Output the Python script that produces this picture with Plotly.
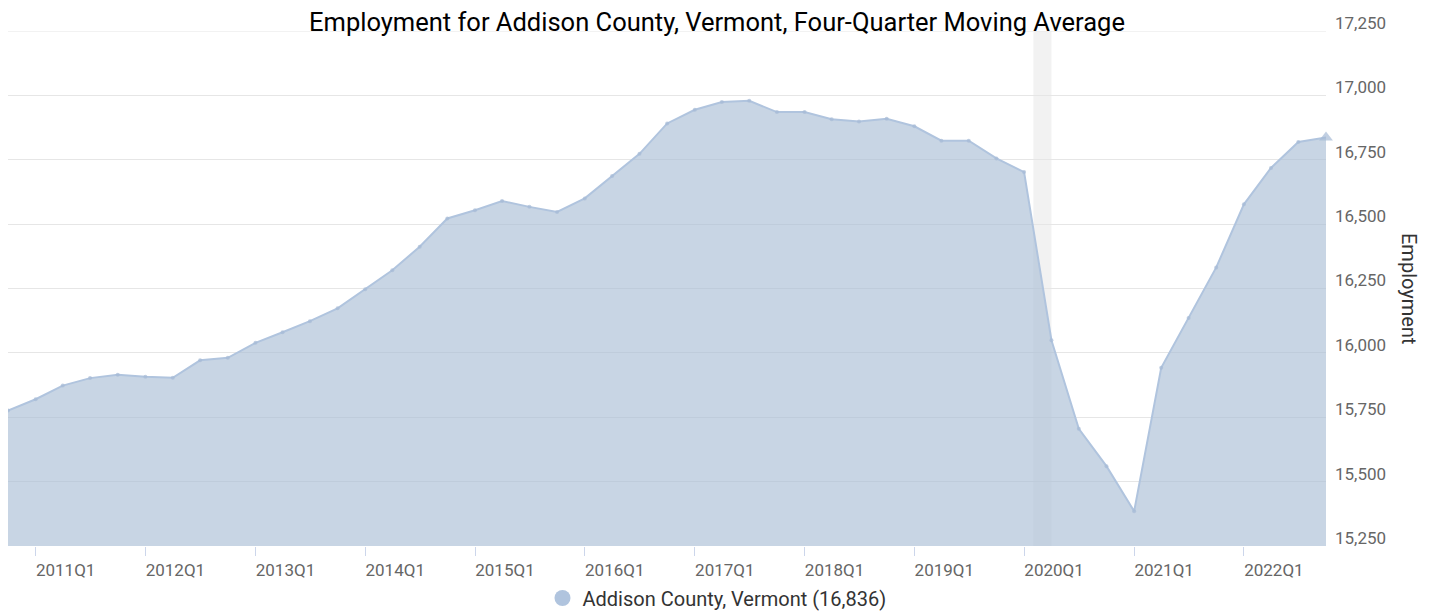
import plotly.graph_objects as go

# ---- data ----
quarters = [
    "2010-10-01",
    "2011-01-01", "2011-04-01", "2011-07-01", "2011-10-01",
    "2012-01-01", "2012-04-01", "2012-07-01", "2012-10-01",
    "2013-01-01", "2013-04-01", "2013-07-01", "2013-10-01",
    "2014-01-01", "2014-04-01", "2014-07-01", "2014-10-01",
    "2015-01-01", "2015-04-01", "2015-07-01", "2015-10-01",
    "2016-01-01", "2016-04-01", "2016-07-01", "2016-10-01",
    "2017-01-01", "2017-04-01", "2017-07-01", "2017-10-01",
    "2018-01-01", "2018-04-01", "2018-07-01", "2018-10-01",
    "2019-01-01", "2019-04-01", "2019-07-01", "2019-10-01",
    "2020-01-01", "2020-04-01", "2020-07-01", "2020-10-01",
    "2021-01-01", "2021-04-01", "2021-07-01", "2021-10-01",
    "2022-01-01", "2022-04-01", "2022-07-01", "2022-10-01",
]
employment = [
    15776,
    15820, 15873, 15902, 15915,
    15907, 15903, 15971, 15981,
    16039, 16080, 16123, 16173,
    16247, 16321, 16412, 16522,
    16554, 16590, 16567, 16547,
    16600, 16687, 16773, 16891,
    16944, 16974, 16979, 16935,
    16935, 16907, 16899, 16909,
    16880, 16824, 16824, 16755,
    16702, 16049, 15705, 15560,
    15385, 15942, 16135, 16332,
    16577, 16718, 16819, 16836,
]
tick_dates = ["2011-01-01", "2012-01-01", "2013-01-01", "2014-01-01", "2015-01-01",
              "2016-01-01", "2017-01-01", "2018-01-01", "2019-01-01", "2020-01-01",
              "2021-01-01", "2022-01-01"]
tick_labels = ["2011Q1", "2012Q1", "2013Q1", "2014Q1", "2015Q1", "2016Q1",
               "2017Q1", "2018Q1", "2019Q1", "2020Q1", "2021Q1", "2022Q1"]
y_ticks = [15250, 15500, 15750, 16000, 16250, 16500, 16750, 17000, 17250]
y_min, y_max = 15250, 17250
recession = ("2020-02-01", "2020-04-01")
series_name = "Addison County, Vermont (16,836)"

LINE = "#b0c4de"
DOT = "#a6bad6"
FILL = "rgba(170,190,214,0.65)"
FONT = "Roboto"

# The page body adds an 8px offset, so the figure is sized to fill the rest of the window.
W, H = 1425, 606

fig = go.Figure()

symbols = ["circle"] * (len(employment) - 1) + ["triangle-up"]
sizes = [4] * (len(employment) - 1) + [12]

fig.add_trace(go.Scatter(
    x=quarters, y=employment, mode="lines+markers",
    fill="tozeroy", fillcolor=FILL,
    line=dict(color=LINE, width=2),
    marker=dict(color=DOT, size=sizes, symbol=symbols, line=dict(width=0)),
    showlegend=False, hoverinfo="x+y", cliponaxis=False,
))
fig.add_trace(go.Scatter(
    x=[None], y=[None], mode="markers", name=series_name,
    marker=dict(color=LINE, size=18, symbol="circle"),
    showlegend=True,
))

fig.add_shape(type="rect", xref="x", yref="paper",
              x0=recession[0], x1=recession[1], y0=0, y1=1,
              fillcolor="#f2f2f2", line=dict(width=0), layer="below")
# top gridline at the range edge
fig.add_shape(type="line", xref="paper", yref="y",
              x0=0, x1=1, y0=y_max, y1=y_max,
              line=dict(color="#e6e6e6", width=1), layer="below")

fig.update_layout(
    width=W, height=H,
    margin=dict(l=0, r=107, t=23, b=68, autoexpand=False),
    paper_bgcolor="white", plot_bgcolor="white",
    font=dict(family=FONT, color="#333333"),
    title=dict(text="Employment for Addison County, Vermont, Four-Quarter Moving Average",
               x=709 / W, xref="container", xanchor="center",
               y=1 - 14 / H, yref="container", yanchor="middle",
               font=dict(family=FONT, size=25.5, color="#000000")),
    showlegend=True,
    legend=dict(orientation="h", x=709 / W, xref="container", xanchor="center",
                y=1 - 590 / H, yref="container", yanchor="middle",
                font=dict(family=FONT, size=20, color="#333333"),
                bgcolor="rgba(0,0,0,0)"),
    xaxis=dict(
        type="date", automargin=False,
        range=[quarters[0], quarters[-1]],
        tickvals=tick_dates, ticktext=tick_labels,
        ticks="outside", ticklen=9, tickcolor="#ccd6eb", tickwidth=1,
        ticklabelshift=30,
        showgrid=False, zeroline=False, showline=False,
        tickfont=dict(family=FONT, size=17, color="#666666"),
    ),
    yaxis=dict(
        side="right", automargin=False,
        range=[y_min, y_max],
        tickvals=y_ticks, tickformat=",",
        showgrid=True, gridcolor="#e6e6e6", gridwidth=1,
        zeroline=False, showline=False, ticks="",
        ticklabelshift=-8, ticklabelstandoff=8,
        tickfont=dict(family=FONT, size=17, color="#666666"),
    ),
    annotations=[dict(
        text="Employment", textangle=90,
        xref="paper", yref="paper", x=(1409 - 8) / 1318, y=(546 - 288) / 515,
        xanchor="center", yanchor="middle", showarrow=False,
        font=dict(family=FONT, size=20, color="#333333"),
    )],
)

fig.write_html("out.html")
